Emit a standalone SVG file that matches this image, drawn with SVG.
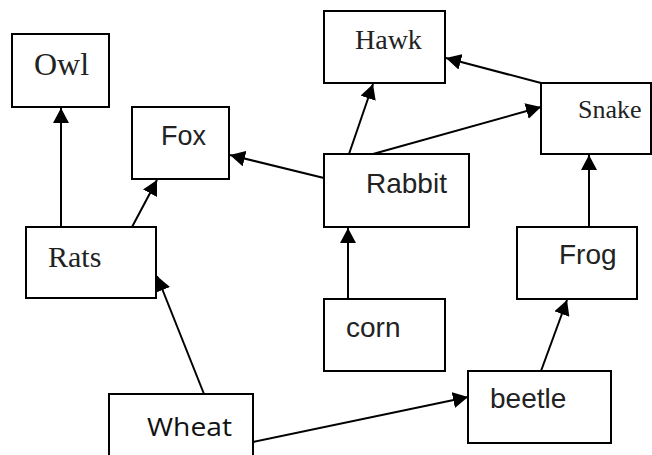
<svg xmlns="http://www.w3.org/2000/svg" width="652" height="455" viewBox="0 0 652 455">
<style>
.box{fill:#fff;stroke:#000;stroke-width:2}
.serif{font-family:"Liberation Serif","Times New Roman",serif;fill:#222}
.sans{font-family:"Liberation Sans",Arial,sans-serif;fill:#222}
.cal{font-family:"Open Sans","Liberation Sans",sans-serif;fill:#111}
.edge{stroke:#000;stroke-width:2;fill:none;marker-end:url(#ah)}
</style>
<defs>
<marker id="ah" viewBox="0 0 15 16" refX="15" refY="8" markerWidth="15" markerHeight="16" markerUnits="userSpaceOnUse" orient="auto">
<path d="M0,0 L15,8 L0,16 z" fill="#000"/>
</marker>
</defs>
<rect width="652" height="455" fill="#fff"/>
<g id="edges">
<line class="edge" x1="61" y1="227" x2="61" y2="108"/>
<line class="edge" x1="132" y1="227" x2="157" y2="180"/>
<line class="edge" x1="324" y1="178" x2="230" y2="155"/>
<line class="edge" x1="349" y1="154" x2="373" y2="84"/>
<line class="edge" x1="373" y1="154" x2="541" y2="107"/>
<line class="edge" x1="541" y1="83" x2="446" y2="58"/>
<line class="edge" x1="589" y1="227" x2="589" y2="155"/>
<line class="edge" x1="348" y1="299" x2="348" y2="228"/>
<line class="edge" x1="204" y1="394" x2="157" y2="276"/>
<line class="edge" x1="253" y1="442" x2="468" y2="397"/>
<line class="edge" x1="541" y1="371" x2="567" y2="300"/>
</g>
<g id="owl"><rect class="box" x="12" y="34" width="97" height="73"/><text class="serif" x="34" y="75" font-size="32">Owl</text></g>
<g id="fox"><rect class="box" x="132" y="107" width="97" height="72"/><text class="sans" x="161" y="145" font-size="27">Fox</text></g>
<g id="hawk"><rect class="box" x="324" y="11" width="121" height="72"/><text class="serif" x="355" y="49" font-size="28">Hawk</text></g>
<g id="snake"><rect class="box" x="541" y="83" width="110" height="71"/><text class="serif" x="578" y="118" font-size="26">Snake</text></g>
<g id="rabbit"><rect class="box" x="324" y="154" width="145" height="73"/><text class="sans" x="366" y="193" font-size="28">Rabbit</text></g>
<g id="rats"><rect class="box" x="26" y="227" width="130" height="71"/><text class="serif" x="48" y="267" font-size="30">Rats</text></g>
<g id="frog"><rect class="box" x="517" y="227" width="120" height="72"/><text class="sans" x="559" y="264" font-size="28">Frog</text></g>
<g id="corn"><rect class="box" x="324" y="299" width="121" height="72"/><text class="sans" x="346" y="337" font-size="28">corn</text></g>
<g id="beetle"><rect class="box" x="468" y="371" width="143" height="72"/><text class="sans" x="490" y="408" font-size="28">beetle</text></g>
<g id="wheat"><rect class="box" x="109" y="394" width="144" height="72"/><text class="cal" x="147" y="436" font-size="26" textLength="85" lengthAdjust="spacingAndGlyphs">Wheat</text></g>
</svg>
